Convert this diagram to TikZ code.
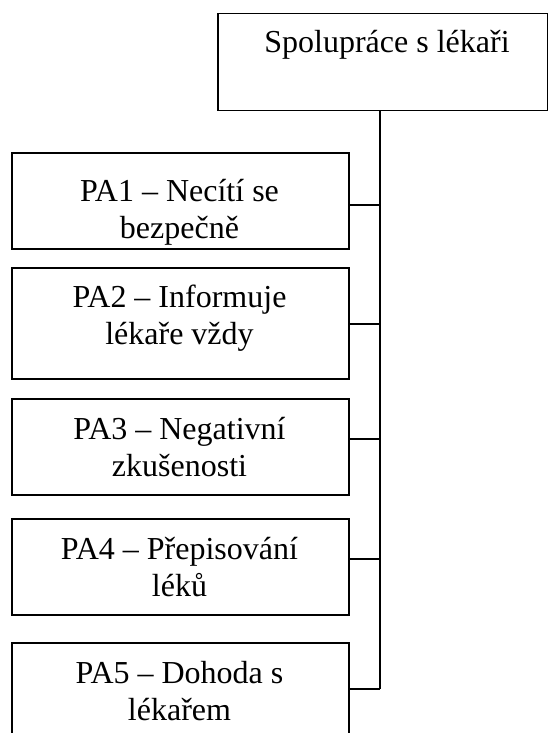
\documentclass[tikz,border=0pt]{standalone}
\usepackage{fontspec}
\setmainfont{Liberation Serif}
\begin{document}
\begin{tikzpicture}[x=1pt,y=-1pt,
  box/.style={draw=black, line width=1.5pt, rectangle, inner sep=0pt, anchor=north west},
  txt/.style={align=center, inner sep=0pt, font=\fontsize{32}{37}\selectfont, anchor=base},
  link/.style={draw=black, line width=1.5pt}]
\useasboundingbox (0,0) rectangle (548,733);
% top box
\node[box, minimum width=330pt, minimum height=97pt] (top) at (217,13) {};
\node[txt] (t0) at (387,53) {Spolupráce s lékaři};
% PA boxes (text anchored at baseline of last line)
\node[box, minimum width=337pt, minimum height=96pt] (pa1) at (11,152) {};
\node[txt] (t1) at (179.5,238) {PA1 – Necítí se\\bezpečně};
\node[box, minimum width=337pt, minimum height=111pt] (pa2) at (11,267) {};
\node[txt] (t2) at (179.5,344) {PA2 – Informuje\\lékaře vždy};
\node[box, minimum width=337pt, minimum height=96pt] (pa3) at (11,398) {};
\node[txt] (t3) at (179.5,476) {PA3 – Negativní\\zkušenosti};
\node[box, minimum width=337pt, minimum height=96pt] (pa4) at (11,518) {};
\node[txt] (t4) at (179.5,596) {PA4 – Přepisování\\léků};
\node[box, minimum width=337pt, minimum height=120pt] (pa5) at (11,642) {};
\node[txt] (t5) at (179.5,720) {PA5 – Dohoda s\\lékařem};
% trunk
\coordinate (j1) at (380,205);
\coordinate (j2) at (380,324);
\coordinate (j3) at (380,439);
\coordinate (j4) at (380,559);
\coordinate (j5) at (380,689);
\draw[link] (top.south -| j1) -- (j5);
\draw[link] (pa1.east |- j1) -- (j1);
\draw[link] (pa2.east |- j2) -- (j2);
\draw[link] (pa3.east |- j3) -- (j3);
\draw[link] (pa4.east |- j4) -- (j4);
\draw[link] (pa5.east |- j5) -- (j5);
\end{tikzpicture}
\end{document}
